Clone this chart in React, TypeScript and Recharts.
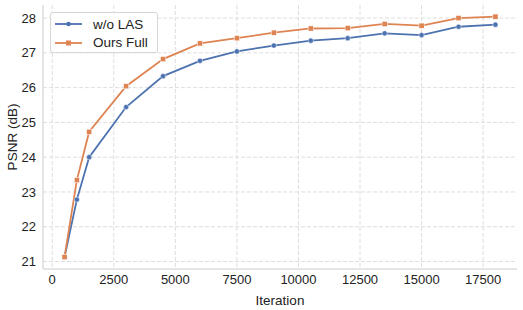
import React from "react";
import {
  LineChart,
  Line,
  XAxis,
  YAxis,
  CartesianGrid,
  ReferenceArea,
} from "recharts";

const iterations = [500, 1000, 1500, 3000, 4500, 6000, 7500, 9000, 10500, 12000, 13500, 15000, 16500, 18000];
const woLas = [21.13, 22.78, 24.0, 25.44, 26.33, 26.77, 27.04, 27.21, 27.35, 27.42, 27.56, 27.51, 27.75, 27.81];
const oursFull = [21.13, 23.34, 24.73, 26.04, 26.82, 27.27, 27.42, 27.58, 27.7, 27.71, 27.83, 27.78, 28.0, 28.04];

const xTicks = [0, 2500, 5000, 7500, 10000, 12500, 15000, 17500];
const yTicks = [21, 22, 23, 24, 25, 26, 27, 28];

const BLUE = "#4C72B0";
const ORANGE = "#DD8452";
const FONT = "'Liberation Sans', Arial, sans-serif";

const data = iterations.map((it, i) => ({ it, woLas: woLas[i], ours: oursFull[i] }));

const series = [
  { key: "woLas", name: "w/o LAS", color: BLUE, marker: "circle" },
  { key: "ours", name: "Ours Full", color: ORANGE, marker: "square" },
];

const CircleDot = (props: any) => {
  const { cx, cy, index } = props;
  if (cx == null || cy == null) return null;
  return <circle key={`c-${index}`} cx={cx} cy={cy} r={2.6} fill={BLUE} stroke="#fff" strokeWidth={0.5} />;
};

const SquareDot = (props: any) => {
  const { cx, cy, index } = props;
  if (cx == null || cy == null) return null;
  return <rect key={`s-${index}`} x={cx - 2.6} y={cy - 2.6} width={5.2} height={5.2} fill={ORANGE} stroke="#fff" strokeWidth={0.5} />;
};

// legend drawn as an overlay so it does not eat plot space
const LegendBox = () => (
  <div
    style={{
      position: "absolute",
      left: 50,
      top: 12,
      boxSizing: "border-box",
      width: 108,
      height: 41,
      border: "1px solid #d6d6d6",
      borderRadius: 3,
      background: "rgba(255,255,255,0.9)",
      padding: "2px 0 0 4px",
      fontFamily: FONT,
      fontSize: 13.5,
      color: "#222",
    }}
  >
    {series.map((s) => (
      <div key={s.key} style={{ display: "flex", alignItems: "center", height: 18.5 }}>
        <svg width={38} height={12}>
          <line x1={0} y1={6} x2={27} y2={6} stroke={s.color} strokeWidth={1.8} />
          {s.marker === "circle" ? (
            <circle cx={13.5} cy={6} r={2.3} fill={s.color} />
          ) : (
            <rect x={11} y={3.5} width={5} height={5} fill={s.color} />
          )}
        </svg>
        <span>{s.name}</span>
      </div>
    ))}
  </div>
);

export default function App() {
  return (
    <div style={{ position: "fixed", left: 0, top: 0, width: 523, height: 310, background: "#fff" }}>
      <LineChart width={523} height={310} data={data} margin={{ top: 5, right: 6, bottom: 0, left: 0 }}>
        <CartesianGrid stroke="#dedede" strokeDasharray="4 2" verticalValues={xTicks} horizontalValues={yTicks} />
        <XAxis
          dataKey="it"
          type="number"
          domain={[-375, 18875]}
          ticks={xTicks}
          allowDataOverflow
          height={41}
          axisLine={{ stroke: "#cccccc" }}
          tickLine={false}
          tickSize={3}
          tickMargin={3}
          tick={{ fill: "#222", fontSize: 13, fontFamily: FONT }}
          label={{ value: "Iteration", position: "insideBottom", offset: 5, fill: "#222", fontSize: 13.5, fontFamily: FONT }}
        />
        <YAxis
          type="number"
          domain={[20.785, 28.375]}
          ticks={yTicks}
          allowDataOverflow
          width={43}
          axisLine={{ stroke: "#cccccc" }}
          tickLine={false}
          tickSize={3}
          tickMargin={4}
          tick={{ fill: "#222", fontSize: 13, fontFamily: FONT }}
          label={{ value: "PSNR (dB)", angle: -90, position: "insideLeft", offset: 12, style: { textAnchor: "middle" }, fill: "#222", fontSize: 13.5, fontFamily: FONT }}
        />
        <ReferenceArea fill="none" stroke="#cccccc" strokeWidth={1} ifOverflow="visible" />
        <Line
          dataKey="woLas"
          name="w/o LAS"
          stroke={BLUE}
          strokeWidth={1.8}
          dot={CircleDot}
          activeDot={false}
          isAnimationActive={false}
        />
        <Line
          dataKey="ours"
          name="Ours Full"
          stroke={ORANGE}
          strokeWidth={1.8}
          dot={SquareDot}
          activeDot={false}
          isAnimationActive={false}
        />
      </LineChart>
      <LegendBox />
    </div>
  );
}
